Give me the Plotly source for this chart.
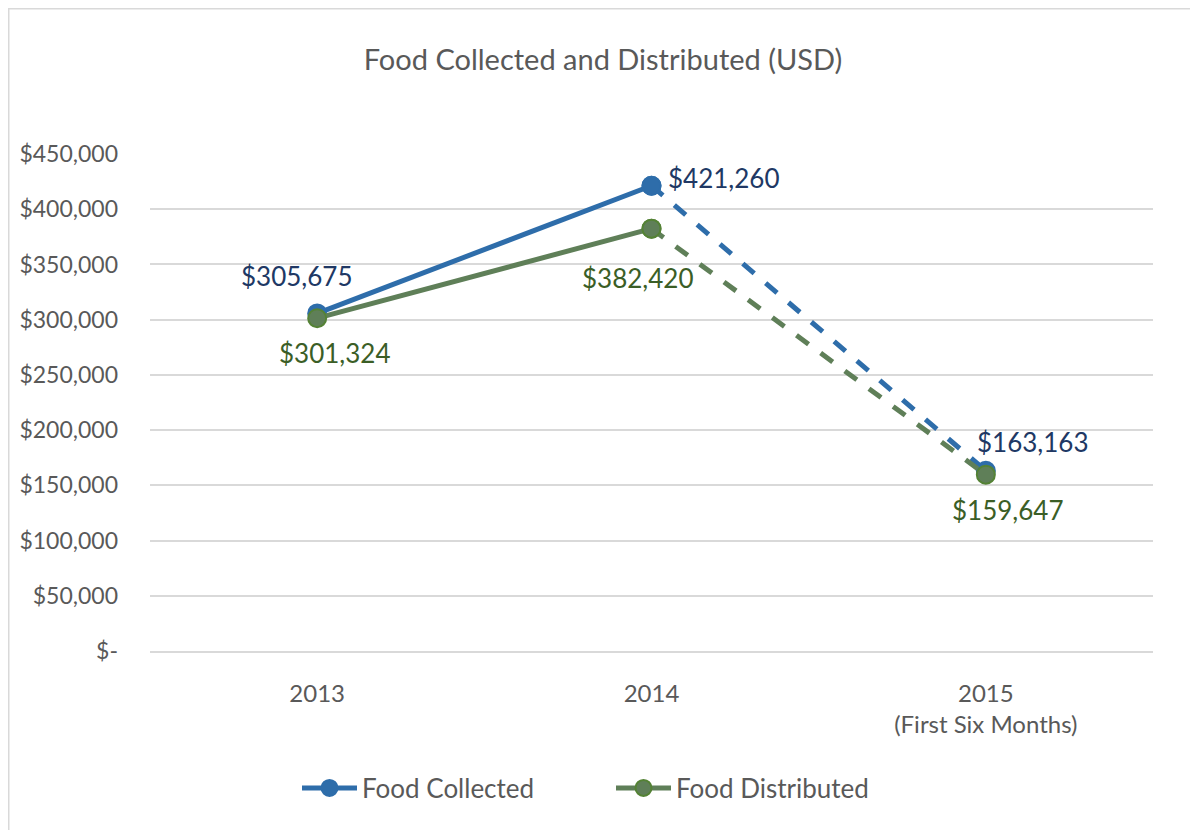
import plotly.graph_objects as go

categories = ["2013", "2014", "2015"]
category_labels = ["2013", "2014", "2015<br>(First Six Months)"]
collected = [305675, 421260, 163163]
distributed = [301324, 382420, 159647]
y_ticks = [0, 50000, 100000, 150000, 200000, 250000, 300000, 350000, 400000, 450000]
y_tick_text = ["$-"] + [f"${v:,}" for v in y_ticks[1:]]

BLUE = "#2E6DAA"
BLUE_LABEL = "#203864"
GREEN = "#5F7F58"
GREEN_EDGE = "#548235"
GREEN_LABEL = "#3B5E26"
FONT = "Lato"

# page has an 8px body margin, so the figure is 8px smaller each way
OFF = 8
W, H = 1198 - OFF, 830 - OFF
L, T = 150 - OFF, 154 - OFF
R = W - (1153 - OFF)
B = H - (651 - OFF)
pw, ph = W - L - R, H - T - B

xi = [0, 1, 2]
fig = go.Figure()

def add_series(name, vals, color, edge):
    fig.add_trace(go.Scatter(
        x=xi[:2], y=vals[:2], mode="lines+markers", name=name,
        line=dict(color=color, width=5),
        marker=dict(size=18, color=color, line=dict(color=edge, width=2)),
        showlegend=True, legendgroup=name))
    fig.add_trace(go.Scatter(
        x=xi[1:], y=vals[1:], mode="lines+markers", name=name,
        line=dict(color=color, width=5, dash="dash"),
        marker=dict(size=18, color=color, line=dict(color=edge, width=2)),
        showlegend=False, legendgroup=name))

add_series("Food Collected", collected, BLUE, BLUE)
add_series("Food Distributed", distributed, GREEN, GREEN_EDGE)

# data labels (pixel offsets relative to each point)
label_offsets_c = [(-21, 37), (72, 8), (47, 29)]
label_offsets_d = [(17, -35), (-14, -49), (22, -35)]
for i in range(3):
    dx, dy = label_offsets_c[i]
    fig.add_annotation(x=xi[i], y=collected[i], text=f"${collected[i]:,}",
                       showarrow=False, xshift=dx, yshift=dy,
                       font=dict(color=BLUE_LABEL, size=26, family=FONT))
    dx, dy = label_offsets_d[i]
    fig.add_annotation(x=xi[i], y=distributed[i], text=f"${distributed[i]:,}",
                       showarrow=False, xshift=dx, yshift=dy,
                       font=dict(color=GREEN_LABEL, size=26, family=FONT))

# chart-area border (top and left edges only, as in the reference)
bx0 = (0 - L) / pw
by1 = 1 + (T - 0) / ph
fig.add_shape(type="line", xref="paper", yref="paper", x0=bx0, x1=(W - L) / pw, y0=by1, y1=by1,
              line=dict(color="#D9D9D9", width=3))
fig.add_shape(type="line", xref="paper", yref="paper", x0=bx0, x1=bx0, y0=by1, y1=-B / ph,
              line=dict(color="#D9D9D9", width=3))

fig.update_layout(
    width=W, height=H,
    margin=dict(l=L, r=R, t=T, b=B),
    paper_bgcolor="white", plot_bgcolor="white",
    font=dict(family=FONT, color="#595959", size=23),
    title=dict(text="Food Collected and Distributed (USD)", x=0.5, xanchor="center",
               y=1 - (60 - OFF) / H, yanchor="middle", font=dict(size=29, color="#595959", family=FONT)),
    xaxis=dict(range=[-0.5, 2.5], tickvals=xi, ticktext=category_labels,
               showgrid=False, zeroline=False, showline=True, linecolor="#D9D9D9", linewidth=2,
               ticks="", ticklabelstandoff=20, tickfont=dict(size=24)),
    yaxis=dict(range=[0, 450000], tickvals=y_ticks, ticktext=y_tick_text,
               showgrid=True, gridcolor="#D9D9D9", gridwidth=2, zeroline=False,
               showline=False, ticks="", ticklabelstandoff=31, tickfont=dict(size=23)),
    legend=dict(orientation="h", x=(297 - OFF - L) / pw, xanchor="left",
                y=-((788 - OFF) - (H - B)) / ph, yanchor="middle",
                font=dict(size=26, color="#595959"), itemwidth=55, entrywidth=244),
    showlegend=True,
)

fig.write_html("out.html")
